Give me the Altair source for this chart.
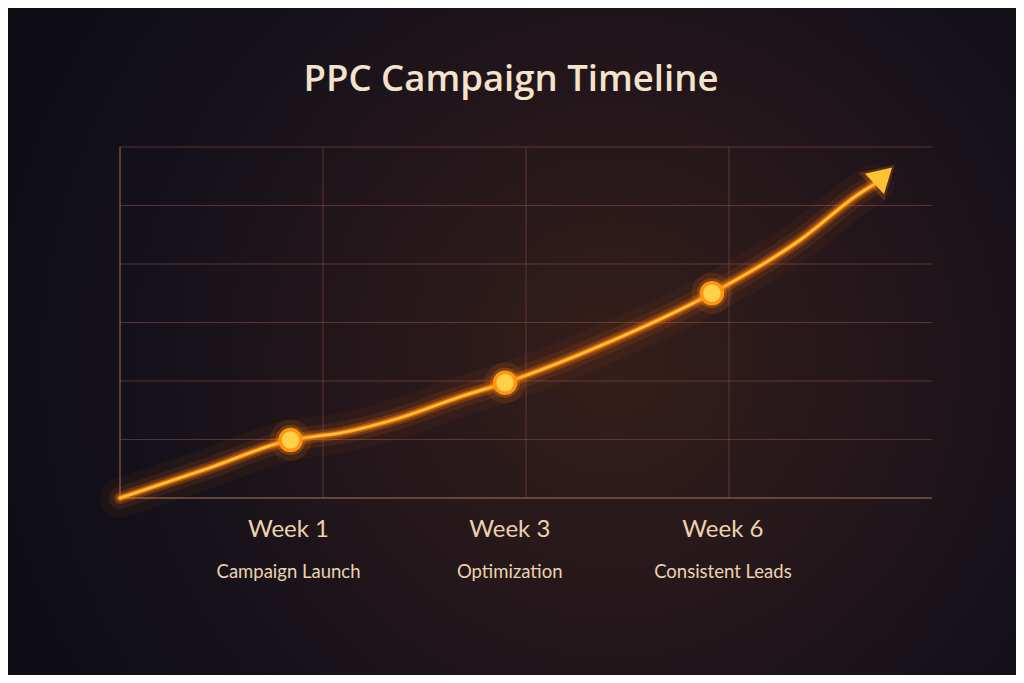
import altair as alt
import pandas as pd

# ---- data ----
curve_x = [0.0, 0.42, 0.84, 1.084, 1.379, 1.675, 1.897, 2.365, 2.916, 3.35, 3.645, 3.714]
curve_y = [0.0, 0.49, 0.99, 1.11, 1.37, 1.73, 1.97, 2.60, 3.50, 4.41, 5.21, 5.36]

weeks = ["Week 1", "Week 3", "Week 6"]
stages = ["Campaign Launch", "Optimization", "Consistent Leads"]
milestone_x = [0.84, 1.897, 2.916]
milestone_y = [0.99, 1.97, 3.50]
label_x = [0.83, 1.92, 2.97]

arrow_x = [3.76]
arrow_y = [5.51]

grid_x = [1, 2, 3]
grid_y = [1, 2, 3, 4, 5, 6]
x_range = [0, 4]
y_range = [0, 6]

title_text = ["PPC Campaign Timeline"]

W, H = 812, 351
PL, PT, PR, PB = 112, 139, 84, 177

curve = pd.DataFrame({"x": curve_x, "y": curve_y})
miles = pd.DataFrame({"x": milestone_x, "y": milestone_y, "lx": label_x,
                      "week": weeks, "stage": stages})
arrow = pd.DataFrame({"x": arrow_x, "y": arrow_y})
titles = pd.DataFrame({"t": title_text})
gx = pd.DataFrame({"x": grid_x, "y0": [y_range[0]] * len(grid_x), "y1": [y_range[1]] * len(grid_x)})
gy = pd.DataFrame({"y": grid_y, "x0": [x_range[0]] * len(grid_y), "x1": [x_range[1]] * len(grid_y)})
axes_df = pd.DataFrame({"x0": [x_range[0]], "x1": [x_range[1]],
                        "y0": [y_range[0]], "y1": [y_range[1]]})

xs = alt.Scale(domain=x_range, nice=False, zero=False)
ys = alt.Scale(domain=y_range, nice=False, zero=False)

# background haze
bg = alt.Chart(titles).mark_rect(
    fill=alt.RadialGradient(
        gradient="radial",
        stops=[alt.GradientStop(color="#351e1a", offset=0),
               alt.GradientStop(color="#25171b", offset=0.4),
               alt.GradientStop(color="#15111a", offset=0.75),
               alt.GradientStop(color="#0f0e17", offset=1)],
        x1=0.6, y1=0.52, r1=0, x2=0.6, y2=0.52, r2=0.62),
).encode(x=alt.value(-PL), x2=alt.value(W + PR), y=alt.value(-PT), y2=alt.value(H + PB))

layers = [bg]

# grid lines
layers.append(alt.Chart(gx).mark_rule(color="#8a5040", opacity=0.55, strokeWidth=1)
              .encode(x=alt.X("x:Q", scale=xs, axis=None),
                      y=alt.Y("y0:Q", scale=ys, axis=None), y2="y1:Q"))
layers.append(alt.Chart(gy).mark_rule(color="#8a5040", opacity=0.55, strokeWidth=1)
              .encode(y=alt.Y("y:Q", scale=ys, axis=None),
                      x=alt.X("x0:Q", scale=xs, axis=None), x2="x1:Q"))
# axis lines (x = 0 and y = 0)
layers.append(alt.Chart(axes_df).mark_rule(color="#6e5040", strokeWidth=1.5)
              .encode(x=alt.X("x0:Q", scale=xs, axis=None),
                      y=alt.Y("y0:Q", scale=ys, axis=None), y2="y1:Q"))
layers.append(alt.Chart(axes_df).mark_rule(color="#7a5846", strokeWidth=1.5)
              .encode(y=alt.Y("y0:Q", scale=ys, axis=None),
                      x=alt.X("x0:Q", scale=xs, axis=None), x2="x1:Q"))

X = alt.X("x:Q", scale=xs, axis=None)
Y = alt.Y("y:Q", scale=ys, axis=None)
base = alt.Chart(curve).encode(x=X, y=Y)

for w, o in [(40, 0.05), (22, 0.10), (12, 0.25), (7, 0.5)]:
    layers.append(base.mark_line(interpolate="monotone", color="#ff7a10", strokeWidth=w,
                                 opacity=o, strokeCap="round"))
layers.append(base.mark_line(interpolate="monotone", color="#ffa515", strokeWidth=3.5,
                             strokeCap="round"))
layers.append(base.mark_line(interpolate="monotone", color="#ffd050", strokeWidth=1.5,
                             strokeCap="round", opacity=0.8))

ab = alt.Chart(arrow).encode(x=X, y=Y)
layers.append(ab.mark_point(shape="triangle-up", angle=47, size=1400, filled=True,
                            color="#ff8a10", opacity=0.2))
layers.append(ab.mark_point(shape="triangle-up", angle=47, size=770, filled=True,
                            color="#ffc235", opacity=1))

mb = alt.Chart(miles).encode(x=X, y=Y)
layers.append(mb.mark_circle(size=1700, color="#ff7a10", opacity=0.12))
layers.append(mb.mark_circle(size=900, color="#ff8a10", opacity=0.25))
layers.append(mb.mark_point(shape="circle", size=440, filled=True, fill="#ffd048",
                            stroke="#ff9410", strokeWidth=3.5, opacity=1))

lb = alt.Chart(miles).encode(x=alt.X("lx:Q", scale=xs, axis=None))
layers.append(lb.mark_text(font="Lato", fontSize=24, color="#ecd3ae", baseline="middle")
              .encode(y=alt.value(H + 32), text="week:N"))
layers.append(lb.mark_text(font="Lato", fontSize=18.5, color="#ecd3ae", baseline="middle")
              .encode(y=alt.value(H + 74), text="stage:N"))

layers.append(alt.Chart(titles).mark_text(font="Open Sans", fontSize=36.5, fontWeight=600,
                                          color="#f3e2cc", baseline="middle", align="center")
              .encode(x=alt.value(511 - 8 - PL), y=alt.value(80 - 8 - PT), text="t:N"))

chart = alt.layer(*layers).properties(
    width=W, height=H,
    autosize=alt.AutoSizeParams(type="none"),
    padding={"left": PL, "top": PT, "right": PR, "bottom": PB},
).configure(background="#15121a").configure_view(stroke=None)

chart.save("out.html", embed_options={"renderer": "svg", "actions": False})
